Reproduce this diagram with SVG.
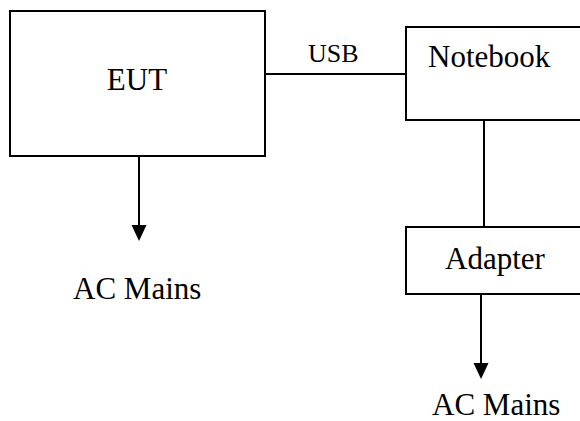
<svg xmlns="http://www.w3.org/2000/svg" width="580" height="421" viewBox="0 0 580 421">
<defs>
<style>
.box{fill:#fff;stroke:#000;stroke-width:2}
.ln{stroke:#000;stroke-width:2;fill:none}
.t{font-family:"Liberation Serif","Times New Roman",serif;font-size:31px;fill:#000}
.s{font-family:"Liberation Serif","Times New Roman",serif;font-size:26px;fill:#000}
</style>
</defs>
<rect width="580" height="421" fill="#fff"/>
<g id="connectors">
<line class="ln" x1="265" y1="74" x2="406" y2="74"/>
<text class="s" x="308" y="62">USB</text>
<line class="ln" x1="139" y1="156" x2="139" y2="225"/>
<path d="M131.5,225 L146.5,225 L139,241 Z" fill="#000"/>
<line class="ln" x1="484" y1="120" x2="484" y2="227"/>
<line class="ln" x1="481" y1="294" x2="481" y2="363"/>
<path d="M473.5,363 L488.5,363 L481,379 Z" fill="#000"/>
</g>
<g id="eut">
<rect class="box" x="10" y="11" width="255" height="145"/>
<text class="t" x="137" y="90" text-anchor="middle">EUT</text>
</g>
<g id="notebook">
<rect class="box" x="406" y="27" width="200" height="93"/>
<text class="t" x="428" y="67">Notebook</text>
</g>
<g id="adapter">
<rect class="box" x="406" y="227" width="200" height="67"/>
<text class="t" x="445" y="269">Adapter</text>
</g>
<g id="ac1">
<text class="t" x="73" y="299">AC Mains</text>
</g>
<g id="ac2">
<text class="t" x="432" y="415">AC Mains</text>
</g>
</svg>
